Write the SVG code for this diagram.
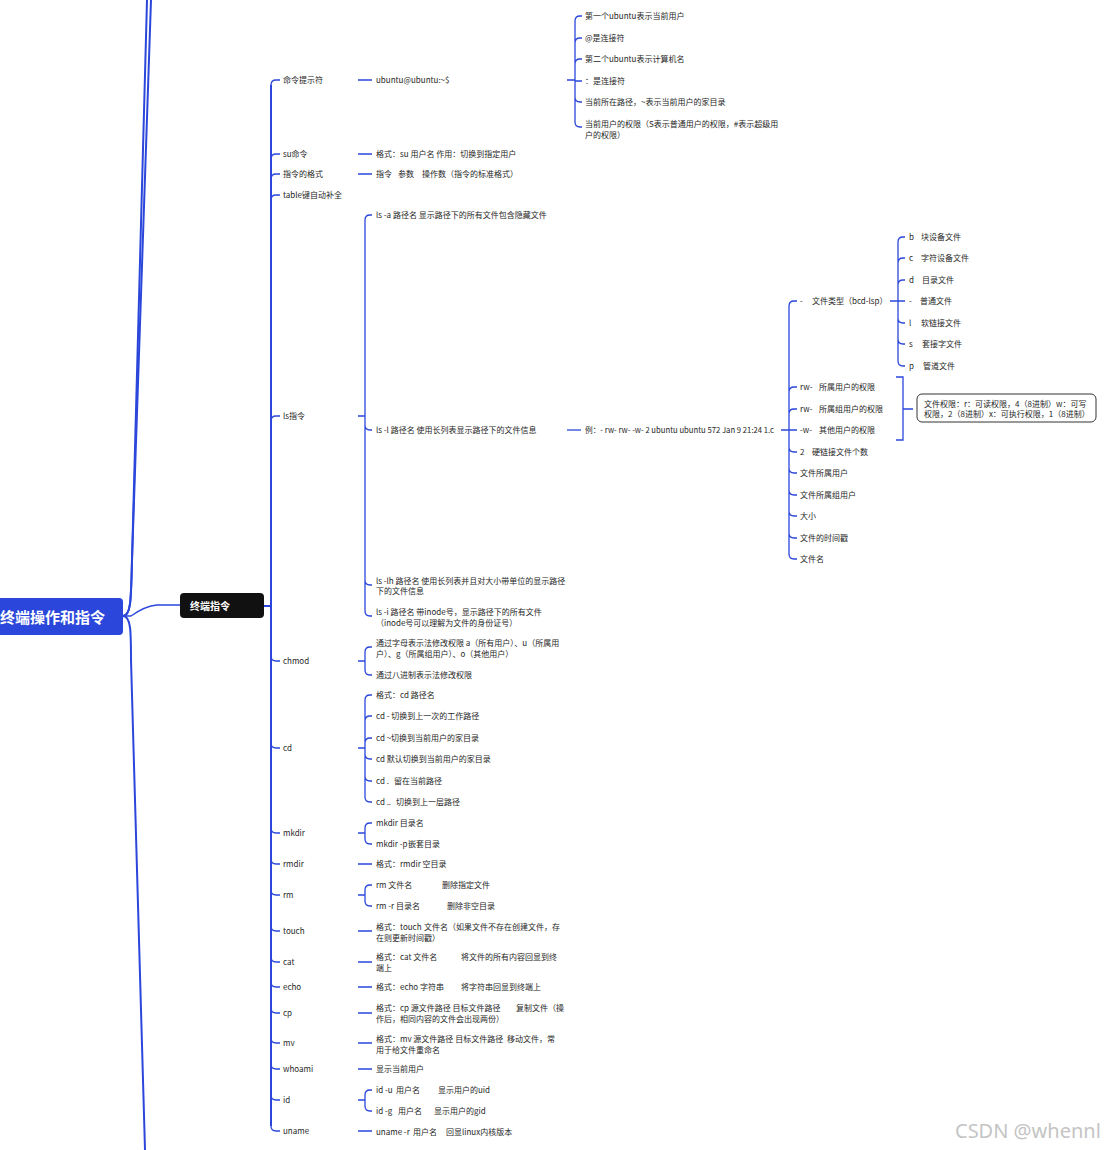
<svg xmlns="http://www.w3.org/2000/svg" width="1108" height="1150" viewBox="0 0 1108 1150">
<style>
.t{font-family:"Noto Sans CJK SC","Noto Sans",sans-serif;font-size:8px;fill:#262626}
.c{fill:none;stroke:#2B47DB;stroke-width:1.3}
.m{fill:none;stroke:#2B47DB;stroke-width:2}
</style>
<rect width="1108" height="1150" fill="#ffffff"/>
<g id="connectors">
<path class="m" d="M123,616 C131,616 131,600 132,560 L147,0"/>
<path class="m" d="M123,616 C131,616 131,600 132,560 L151,0"/>
<path class="m" d="M123,616 C131,616 131,632 131,660 L145,1150"/>
<path class="c" d="M123,616 L131,616 Q145,606 157,605 L180,605"/>
<path class="m" d="M264,606 L271,606 M271,85 L271,1126"/>
<path class="c" d="M271,85 Q271,80 276,80 L280,80 M271,159 Q271,154 276,154 L280,154 M271,179 Q271,174 276,174 L280,174 M271,200 Q271,195 276,195 L280,195 M271,421 Q271,416 276,416 L280,416 M271,656 Q271,661 276,661 L280,661 M271,743 Q271,748 276,748 L280,748 M271,828 Q271,833 276,833 L280,833 M271,859 Q271,864 276,864 L280,864 M271,890 Q271,895 276,895 L280,895 M271,926 Q271,931 276,931 L280,931 M271,957 Q271,962 276,962 L280,962 M271,982 Q271,987 276,987 L280,987 M271,1008 Q271,1013 276,1013 L280,1013 M271,1038 Q271,1043 276,1043 L280,1043 M271,1064 Q271,1069 276,1069 L280,1069 M271,1095 Q271,1100 276,1100 L280,1100 M271,1126 Q271,1131 276,1131 L280,1131"/>
<path class="c" d="M358,80 L372,80 M358,154 L372,154 M358,174 L372,174 M358,864 L372,864 M358,931 L372,931 M358,962 L372,962 M358,987 L372,987 M358,1013 L372,1013 M358,1043 L372,1043 M358,1069 L372,1069 M358,1131 L372,1131"/>
<path class="c" d="M358,416 L365,416 M365,220 L365,611 M365,220 Q365,215 370,215 L372,215 M365,425 Q365,430 370,430 L372,430 M365,580 Q365,585 370,585 L372,585 M365,611 Q365,616 370,616 L372,616"/>
<path class="c" d="M358,661 L365,661 M365,652 L365,670 M365,652 Q365,647 370,647 L372,647 M365,670 Q365,675 370,675 L372,675"/>
<path class="c" d="M358,748 L365,748 M365,700 L365,797 M365,700 Q365,695 370,695 L372,695 M365,721 Q365,716 370,716 L372,716 M365,743 Q365,738 370,738 L372,738 M365,754 Q365,759 370,759 L372,759 M365,776 Q365,781 370,781 L372,781 M365,797 Q365,802 370,802 L372,802"/>
<path class="c" d="M358,833 L365,833 M365,828 L365,839 M365,828 Q365,823 370,823 L372,823 M365,839 Q365,844 370,844 L372,844"/>
<path class="c" d="M358,895 L365,895 M365,890 L365,901 M365,890 Q365,885 370,885 L372,885 M365,901 Q365,906 370,906 L372,906"/>
<path class="c" d="M358,1100 L365,1100 M365,1095 L365,1106 M365,1095 Q365,1090 370,1090 L372,1090 M365,1106 Q365,1111 370,1111 L372,1111"/>
<path class="c" d="M567,80 L575,80 M575,21 L575,122 M575,21 Q575,16 580,16 L582,16 M575,43 Q575,38 580,38 L582,38 M575,64 Q575,59 580,59 L582,59 M575,81 L582,81 M575,97 Q575,102 580,102 L582,102 M575,122 Q575,127 580,127 L582,127"/>
<path class="c" d="M567,430 L581,430"/>
<path class="c" d="M781,430 L789,430 M789,306 L789,554 M789,306 Q789,301 794,301 L797,301 M789,392 Q789,387 794,387 L797,387 M789,414 Q789,409 794,409 L797,409 M789,430 L797,430 M789,447 Q789,452 794,452 L797,452 M789,468 Q789,473 794,473 L797,473 M789,490 Q789,495 794,495 L797,495 M789,511 Q789,516 794,516 L797,516 M789,533 Q789,538 794,538 L797,538 M789,554 Q789,559 794,559 L797,559"/>
<path class="c" d="M890,301 L898,301 M898,242 L898,361 M898,242 Q898,237 903,237 L905,237 M898,263 Q898,258 903,258 L905,258 M898,285 Q898,280 903,280 L905,280 M898,301 L905,301 M898,318 Q898,323 903,323 L905,323 M898,339 Q898,344 903,344 L905,344 M898,361 Q898,366 903,366 L905,366"/>
<path class="c" d="M896,377 L903,377 L903,440 L896,440 M903,409 L913,409"/>
</g>
<g id="root"><rect x="-20" y="598" width="143" height="37" rx="4" fill="#2B47DB"/><text x="0" y="623" font-family="Noto Sans CJK SC,sans-serif" font-size="15" font-weight="bold" fill="#ffffff">终端操作和指令</text></g>
<g id="terminal"><rect x="180" y="593" width="84" height="25" rx="4" fill="#111111"/><text x="190" y="610" font-family="Noto Sans CJK SC,sans-serif" font-size="10" font-weight="bold" fill="#ffffff">终端指令</text></g>
<g id="n-prompt"><text class="t" x="283" y="83">命令提示符</text></g>
<g id="n-su"><text class="t" x="283" y="157">su命令</text></g>
<g id="n-fmt"><text class="t" x="283" y="177">指令的格式</text></g>
<g id="n-tab"><text class="t" x="283" y="198">table键自动补全</text></g>
<g id="n-ls"><text class="t" x="283" y="419">ls指令</text></g>
<g id="n-chmod"><text class="t" x="283" y="664">chmod</text></g>
<g id="n-cd"><text class="t" x="283" y="751">cd</text></g>
<g id="n-mkdir"><text class="t" x="283" y="836">mkdir</text></g>
<g id="n-rmdir"><text class="t" x="283" y="867">rmdir</text></g>
<g id="n-rm"><text class="t" x="283" y="898">rm</text></g>
<g id="n-touch"><text class="t" x="283" y="934">touch</text></g>
<g id="n-cat"><text class="t" x="283" y="965">cat</text></g>
<g id="n-echo"><text class="t" x="283" y="990">echo</text></g>
<g id="n-cp"><text class="t" x="283" y="1016">cp</text></g>
<g id="n-mv"><text class="t" x="283" y="1046">mv</text></g>
<g id="n-whoami"><text class="t" x="283" y="1072">whoami</text></g>
<g id="n-id"><text class="t" x="283" y="1103">id</text></g>
<g id="n-uname"><text class="t" x="283" y="1134">uname</text></g>
<g id="n-ubuntu"><text class="t" x="376" y="83">ubuntu@ubuntu:~$</text></g>
<g id="n-u1"><text class="t" x="585" y="19">第一个ubuntu表示当前用户</text></g>
<g id="n-u2"><text class="t" x="585" y="41">@是连接符</text></g>
<g id="n-u3"><text class="t" x="585" y="62">第二个ubuntu表示计算机名</text></g>
<g id="n-u4"><text class="t" x="585" y="84">：<tspan x="593">是连接符</tspan></text></g>
<g id="n-u5"><text class="t" x="585" y="105">当前所在路径，~表示当前用户的家目录</text></g>
<g id="n-u6"><text class="t" x="585" y="127">当前用户的权限（S表示普通用户的权限，#表示超级用</text><text class="t" x="585" y="138">户的权限）</text></g>
<g id="n-su1"><text class="t" x="376" y="157">格式：su 用户名 作用：切换到指定用户</text></g>
<g id="n-fmt1"><text class="t" x="376" y="177">指令<tspan x="398">参数</tspan><tspan x="422">操作数（指令的标准格式）</tspan></text></g>
<g id="n-lsa"><text class="t" x="376" y="218">ls -a 路径名 显示路径下的所有文件包含隐藏文件</text></g>
<g id="n-lsl"><text class="t" x="376" y="433">ls -l 路径名 使用长列表显示路径下的文件信息</text></g>
<g id="n-lslh"><text class="t" x="376" y="584">ls -lh 路径名 使用长列表并且对大小带单位的显示路径</text><text class="t" x="376" y="594">下的文件信息</text></g>
<g id="n-lsi"><text class="t" x="376" y="615">ls -i 路径名 带inode号，显示路径下的所有文件</text><text class="t" x="376" y="626">（inode号可以理解为文件的身份证号）</text></g>
<g id="n-ex"><text class="t" x="585" y="433" textLength="189" lengthAdjust="spacingAndGlyphs">例：- rw- rw- -w- 2 ubuntu ubuntu 572 Jan 9 21:24 1.c</text></g>
<g id="n-e1"><text class="t" x="800" y="304">-<tspan x="812">文件类型（bcd-lsp）</tspan></text></g>
<g id="n-e2"><text class="t" x="800" y="390">rw-<tspan x="819">所属用户的权限</tspan></text></g>
<g id="n-e3"><text class="t" x="800" y="412">rw-<tspan x="819">所属组用户的权限</tspan></text></g>
<g id="n-e4"><text class="t" x="800" y="433">-w-<tspan x="819">其他用户的权限</tspan></text></g>
<g id="n-e5"><text class="t" x="800" y="455">2<tspan x="812">硬链接文件个数</tspan></text></g>
<g id="n-e6"><text class="t" x="800" y="476">文件所属用户</text></g>
<g id="n-e7"><text class="t" x="800" y="498">文件所属组用户</text></g>
<g id="n-e8"><text class="t" x="800" y="519">大小</text></g>
<g id="n-e9"><text class="t" x="800" y="541">文件的时间戳</text></g>
<g id="n-e10"><text class="t" x="800" y="562">文件名</text></g>
<g id="n-f1"><text class="t" x="909" y="240">b<tspan x="921">块设备文件</tspan></text></g>
<g id="n-f2"><text class="t" x="909" y="261">c<tspan x="921">字符设备文件</tspan></text></g>
<g id="n-f3"><text class="t" x="909" y="283">d<tspan x="922">目录文件</tspan></text></g>
<g id="n-f4"><text class="t" x="909" y="304">-<tspan x="920">普通文件</tspan></text></g>
<g id="n-f5"><text class="t" x="909" y="326">l<tspan x="921">软链接文件</tspan></text></g>
<g id="n-f6"><text class="t" x="909" y="347">s<tspan x="922">套接字文件</tspan></text></g>
<g id="n-f7"><text class="t" x="909" y="369">p<tspan x="923">管道文件</tspan></text></g>
<g id="n-summary"><rect x="917" y="394" width="179" height="28" rx="5" fill="#ffffff" stroke="#333333" stroke-width="1"/><text class="t" x="924" y="407">文件权限：r：可读权限，4（8进制）w：可写</text><text class="t" x="924" y="417">权限，2（8进制）x：可执行权限，1（8进制）</text></g>
<g id="n-ch1"><text class="t" x="376" y="646">通过字母表示法修改权限 a（所有用户）、u（所属用</text><text class="t" x="376" y="657">户）、g（所属组用户）、o（其他用户）</text></g>
<g id="n-ch2"><text class="t" x="376" y="678">通过八进制表示法修改权限</text></g>
<g id="n-cd1"><text class="t" x="376" y="698">格式：cd 路径名</text></g>
<g id="n-cd2"><text class="t" x="376" y="719">cd - 切换到上一次的工作路径</text></g>
<g id="n-cd3"><text class="t" x="376" y="741">cd ~切换到当前用户的家目录</text></g>
<g id="n-cd4"><text class="t" x="376" y="762">cd 默认切换到当前用户的家目录</text></g>
<g id="n-cd5"><text class="t" x="376" y="784">cd .<tspan x="394">留在当前路径</tspan></text></g>
<g id="n-cd6"><text class="t" x="376" y="805">cd ..<tspan x="396">切换到上一层路径</tspan></text></g>
<g id="n-mk1"><text class="t" x="376" y="826">mkdir 目录名</text></g>
<g id="n-mk2"><text class="t" x="376" y="847">mkdir -p<tspan x="408">嵌套目录</tspan></text></g>
<g id="n-rd1"><text class="t" x="376" y="867">格式：rmdir 空目录</text></g>
<g id="n-rm1"><text class="t" x="376" y="888">rm 文件名<tspan x="442">删除指定文件</tspan></text></g>
<g id="n-rm2"><text class="t" x="376" y="909">rm -r 目录名<tspan x="447">删除非空目录</tspan></text></g>
<g id="n-to1"><text class="t" x="376" y="930">格式：touch<tspan x="424">文件名（如果文件不存在创建文件，存</tspan></text><text class="t" x="376" y="941">在则更新时间戳）</text></g>
<g id="n-ca1"><text class="t" x="376" y="960">格式：cat 文件名<tspan x="461">将文件的所有内容回显到终</tspan></text><text class="t" x="376" y="971">端上</text></g>
<g id="n-ec1"><text class="t" x="376" y="990">格式：echo 字符串<tspan x="461">将字符串回显到终端上</tspan></text></g>
<g id="n-cp1"><text class="t" x="376" y="1011">格式：cp 源文件路径 目标文件路径<tspan x="516">复制文件（操</tspan></text><text class="t" x="376" y="1022">作后，相同内容的文件会出现两份）</text></g>
<g id="n-mv1"><text class="t" x="376" y="1042">格式：mv 源文件路径 目标文件路径<tspan x="507">移动文件，常</tspan></text><text class="t" x="376" y="1053">用于给文件重命名</text></g>
<g id="n-wh1"><text class="t" x="376" y="1072">显示当前用户</text></g>
<g id="n-id1"><text class="t" x="376" y="1093">id -u<tspan x="396">用户名</tspan><tspan x="438">显示用户的uid</tspan></text></g>
<g id="n-id2"><text class="t" x="376" y="1114">id -g<tspan x="398">用户名</tspan><tspan x="434">显示用户的gid</tspan></text></g>
<g id="n-un1"><text class="t" x="376" y="1135">uname -r<tspan x="413">用户名</tspan><tspan x="446">回显linux内核版本</tspan></text></g>
<text x="955" y="1138" font-family="Noto Sans,sans-serif" font-size="20" fill="#c4c4c4">CSDN @whennl</text>
</svg>
